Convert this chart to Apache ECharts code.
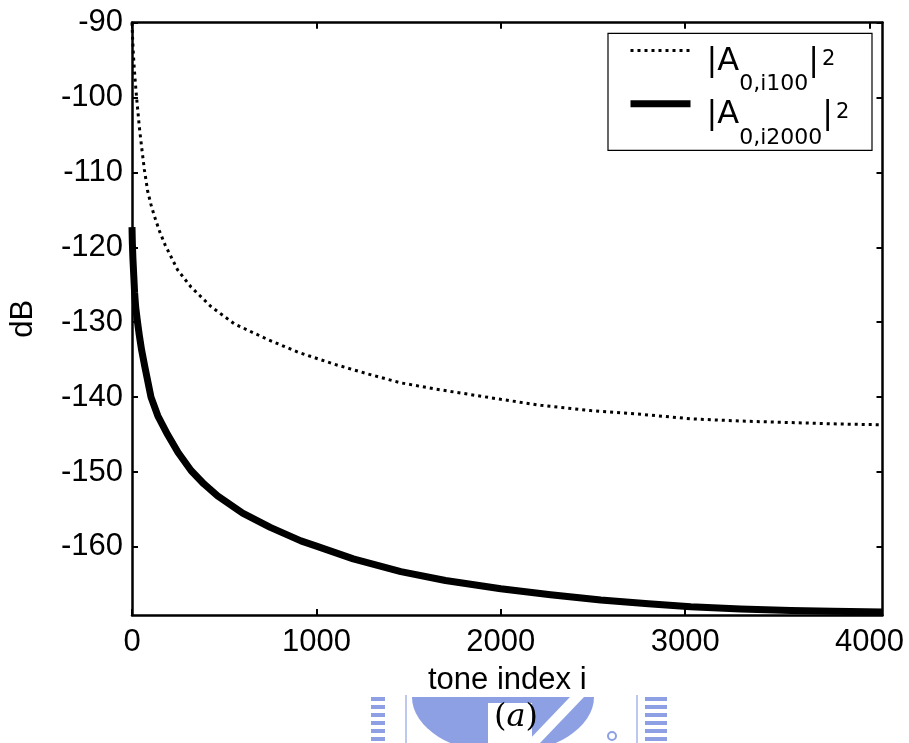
<!DOCTYPE html>
<html><head><meta charset="utf-8">
<script src="https://cdn.jsdelivr.net/npm/echarts@6/dist/echarts.min.js"></script>
<style>html,body{margin:0;padding:0;background:#fff}#c{width:909px;height:743px}</style>
</head><body><div id="c"></div>
<script>
// ---- data ----
const toneA100 = [0,3,7,12,18,25,40,55,67,85,103,121,150,180,247,320,428,554,735,900,1096,1278,1458,1640,1820,2000,2217,2488,2759,3030,3301,3572,3843,4070];
const dbA100   = [-90,-92,-94,-96,-98,-100,-104,-107.2,-109.6,-112.5,-114.3,-115.8,-117.9,-119.7,-123,-125.3,-127.9,-130.2,-132.3,-134.0,-135.6,-136.9,-138.1,-138.9,-139.6,-140.3,-141.1,-141.8,-142.3,-142.9,-143.2,-143.4,-143.6,-143.7];
const toneA2000 = [0,2,5,10,14,20,30,40,52,70,103,140,193,250,320,390,464,600,750,916,1000,1200,1458,1700,2000,2270,2542,2800,3030,3300,3572,3800,4070];
const dbA2000   = [-117.3,-119.5,-121.5,-124,-126,-128,-130,-131.8,-133.7,-136,-140,-142.5,-145.0,-147.4,-149.8,-151.6,-153.2,-155.5,-157.4,-159.2,-159.9,-161.6,-163.3,-164.5,-165.6,-166.4,-167.1,-167.6,-168.0,-168.3,-168.5,-168.6,-168.7];
const xTickLabels = [0,1000,2000,3000,4000];
const yTickLabels = [-90,-100,-110,-120,-130,-140,-150,-160];
const seriesNames = ['A100','A2000'];
const legendSub = {A100:'0,i100', A2000:'0,i2000'};
const xName = 'tone index i';
const yName = 'dB';

const zip = (a,b) => a.map((v,i)=>[v,b[i]]);

const FONT = 'Liberation Sans, Arial, sans-serif';
const axisLine = {onZero:false, lineStyle:{color:'#000', width:2.5}};
const tickStyle = {color:'#000', width:2};
const plain = v => String(Math.round(v));

const chart = echarts.init(document.getElementById('c'));
const wm = 'rgb(141,160,228)';
const wmLight = 'rgb(190,200,238)';
const option = {
  animation:false,
  backgroundColor:'#fff',
  grid:{left:131, right:26.5, top:22.7, bottom:128},
  xAxis:[
    {type:'value', min:0, max:4070, position:'bottom', axisLine:axisLine, splitLine:{show:false},
      axisTick:{inside:true, length:6, lineStyle:tickStyle, customValues:xTickLabels},
      axisLabel:{color:'#000', fontSize:31, fontFamily:FONT, margin:12, customValues:xTickLabels, formatter:plain},
      name:xName, nameLocation:'middle', nameGap:50,
      nameTextStyle:{color:'#000', fontSize:31, fontFamily:FONT}},
    {type:'value', min:0, max:4070, position:'top', axisLine:axisLine, splitLine:{show:false},
      axisTick:{inside:true, length:6, lineStyle:tickStyle, customValues:xTickLabels},
      axisLabel:{show:false}}
  ],
  yAxis:[
    {type:'value', min:-169.1, max:-90, position:'left', axisLine:axisLine, splitLine:{show:false},
      axisTick:{inside:true, length:6, lineStyle:tickStyle, customValues:yTickLabels},
      axisLabel:{color:'#000', fontSize:31, fontFamily:FONT, margin:9, customValues:yTickLabels, formatter:plain},
      name:yName, nameLocation:'middle', nameGap:93, nameRotate:90,
      nameTextStyle:{color:'#000', fontSize:31, fontFamily:FONT}},
    {type:'value', min:-169.1, max:-90, position:'right', axisLine:axisLine, splitLine:{show:false},
      axisTick:{inside:true, length:6, lineStyle:tickStyle, customValues:yTickLabels},
      axisLabel:{show:false}}
  ],
  legend:{
    orient:'vertical', left:627, top:34.6, padding:0, itemGap:-7.8,
    itemWidth:60, itemHeight:14,
    data:[
      {name:seriesNames[0], itemStyle:{opacity:0}, lineStyle:{color:'#000', width:3, type:[3,4]}},
      {name:seriesNames[1], itemStyle:{opacity:0}, lineStyle:{color:'#000', width:7, type:'solid'}}
    ],
    formatter: n => '{f||A}{s|' + legendSub[n] + '}{m||}{p|2}',
    textStyle:{
      color:'#000',
      rich:{
        f:{fontSize:32, lineHeight:32, fontFamily:'DejaVu Sans', verticalAlign:'top', padding:[11.2,0,0,11], color:'#000'},
        m:{fontSize:32, lineHeight:32, fontFamily:'DejaVu Sans', verticalAlign:'top', padding:[11.2,0,0,0], color:'#000'},
        s:{fontSize:22, lineHeight:22, fontFamily:'DejaVu Sans', verticalAlign:'top', padding:[39,0,0,0], color:'#000'},
        p:{fontSize:21, lineHeight:21, fontFamily:'DejaVu Sans', verticalAlign:'top', padding:[14,0,0,3], color:'#000'}
      }
    }
  },
  graphic:{elements:[
    {type:'rect', z:0, shape:{x:608, y:33.3, width:264, height:117}, style:{fill:'#fff', stroke:'#000', lineWidth:1.2}},
    // faint watermark behind caption
    {type:'group', z:-10, children:[
      {type:'rect', shape:{x:371,y:697,width:14,height:4}, style:{fill:wm}},
      {type:'rect', shape:{x:371,y:705,width:14,height:4}, style:{fill:wm}},
      {type:'rect', shape:{x:371,y:713,width:14,height:4}, style:{fill:wm}},
      {type:'rect', shape:{x:371,y:721,width:14,height:4}, style:{fill:wm}},
      {type:'rect', shape:{x:371,y:729,width:14,height:4}, style:{fill:wm}},
      {type:'rect', shape:{x:371,y:737,width:14,height:4}, style:{fill:wm}},
      {type:'rect', shape:{x:405,y:695,width:2,height:48}, style:{fill:wmLight}},
      {type:'sector', shape:{cx:503, cy:697, r:91, startAngle:0, endAngle:Math.PI}, scaleY:0.62, originX:503, originY:697, style:{fill:wm}},
      {type:'polygon', shape:{points:[[570,697],[584,697],[540,743],[526,743]]}, style:{fill:'#fff'}},
      {type:'rect', shape:{x:488,y:703,width:44,height:40}, style:{fill:'#fff'}},
      {type:'rect', shape:{x:636,y:695,width:2,height:48}, style:{fill:wmLight}},
      {type:'circle', shape:{cx:612, cy:736, r:4}, style:{fill:'none', stroke:wm, lineWidth:2}},
      {type:'rect', shape:{x:645,y:697,width:22,height:4}, style:{fill:wm}},
      {type:'rect', shape:{x:645,y:705,width:22,height:4}, style:{fill:wm}},
      {type:'rect', shape:{x:645,y:713,width:22,height:4}, style:{fill:wm}},
      {type:'rect', shape:{x:645,y:721,width:22,height:4}, style:{fill:wm}},
      {type:'rect', shape:{x:645,y:729,width:22,height:4}, style:{fill:wm}},
      {type:'rect', shape:{x:645,y:737,width:22,height:4}, style:{fill:wm}}
    ]},
    {type:'text', z:10, style:{
      text:'{n|(}{i|a}{n|)}', x:516, y:718, align:'center', verticalAlign:'middle',
      textAlign:'center', textVerticalAlign:'middle',
      rich:{
        n:{fontSize:32, fontFamily:'DejaVu Serif', fill:'#000', color:'#000'},
        i:{fontSize:32, fontFamily:'DejaVu Serif', fontStyle:'italic', fill:'#000', color:'#000'}
      }}}
  ]},
  series:[
    {name:seriesNames[0], type:'line', xAxisIndex:0, yAxisIndex:0, data:zip(toneA100, dbA100),
      showSymbol:false, symbol:'none', smooth:false,
      lineStyle:{color:'#000', width:3, type:[3,4]}, itemStyle:{color:'#000'}},
    {name:seriesNames[1], type:'line', xAxisIndex:0, yAxisIndex:0, data:zip(toneA2000, dbA2000),
      showSymbol:false, symbol:'none', smooth:false,
      lineStyle:{color:'#000', width:7, type:'solid', join:'round'}, itemStyle:{color:'#000'}}
  ]
};
chart.setOption(option);
</script>
</body></html>
